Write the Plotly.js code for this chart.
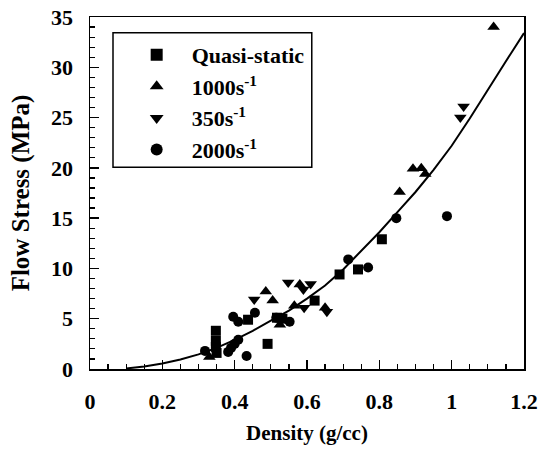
<!DOCTYPE html>
<html>
<head>
<meta charset="utf-8">
<script src="https://cdn.plot.ly/plotly-3.0.1.min.js"></script>
<style>html,body{margin:0;padding:0;background:#fff;}#chart{width:539px;height:449px;}</style>
</head>
<body>
<div id="chart"></div>
<script>
// Quasi-static (squares)
const qsX = [0.348, 0.348, 0.348, 0.350, 0.437, 0.491, 0.517, 0.532, 0.621, 0.690, 0.741, 0.807];
const qsY = [3.8, 2.8, 2.2, 1.6, 4.9, 2.5, 5.1, 5.0, 6.8, 9.4, 9.9, 12.9];
// 1000 s^-1 (up triangles)
const r1000X = [0.330, 0.486, 0.505, 0.525, 0.565, 0.580, 0.650, 0.856, 0.893, 0.916, 0.927, 1.116];
const r1000Y = [1.2, 7.7, 6.8, 4.4, 6.3, 8.4, 6.1, 17.6, 19.9, 19.95, 19.4, 34.0];
// 350 s^-1 (down triangles)
const r350X = [0.454, 0.548, 0.590, 0.610, 0.592, 0.655, 1.024, 1.033];
const r350Y = [6.9, 8.6, 7.9, 8.45, 6.1, 5.7, 25.0, 26.1];
// 2000 s^-1 (circles)
const r2000X = [0.318, 0.382, 0.390, 0.400, 0.410, 0.396, 0.410, 0.433, 0.456, 0.515, 0.552, 0.714, 0.769, 0.847, 0.987];
const r2000Y = [1.8, 1.7, 2.1, 2.5, 2.9, 5.2, 4.7, 1.3, 5.6, 5.1, 4.7, 10.9, 10.1, 15.0, 15.2];
// fitted curve
const fitX = [0.10, 0.15, 0.20, 0.25, 0.30, 0.35, 0.40, 0.45, 0.50, 0.55, 0.60, 0.65, 0.70, 0.75, 0.80, 0.85, 0.90, 0.95, 1.00, 1.05, 1.10, 1.15, 1.20];
const fitY = [0.05, 0.25, 0.55, 0.95, 1.45, 2.1, 2.9, 3.8, 4.8, 5.8, 7.0, 8.3, 9.9, 11.7, 13.6, 15.6, 17.6, 19.8, 22.2, 24.9, 27.8, 30.6, 33.4];

const names = ['Quasi-static', '1000s<sup>-1</sup>', '350s<sup>-1</sup>', '2000s<sup>-1</sup>'];

const FONT = 'Liberation Serif, Times New Roman, serif';
const mk = (sym, size) => ({symbol: sym, size: size, color: '#000', line: {width: 0}});

const traces = [
  {x: fitX, y: fitY, mode: 'lines', line: {color: '#000', width: 2}, showlegend: false, hoverinfo: 'skip'},
  {x: qsX, y: qsY, mode: 'markers', name: names[0], marker: mk('square', 10), legendgroup: 'a'},
  {x: r1000X, y: r1000Y, mode: 'markers', name: names[1], marker: mk('triangle-up', 11), legendgroup: 'b'},
  {x: r350X, y: r350Y, mode: 'markers', name: names[2], marker: mk('triangle-down', 11), legendgroup: 'c'},
  {x: r2000X, y: r2000Y, mode: 'markers', name: names[3], marker: mk('circle', 10), legendgroup: 'd'}
];

const axisCommon = {
  showgrid: false, zeroline: false, showline: true, linecolor: '#000', linewidth: 1.5,
  mirror: true, ticks: 'inside', ticklen: 9, tickwidth: 1.5, tickcolor: '#000',
  tickfont: {family: FONT, size: 22, color: '#000', weight: 'bold'}
};

const layout = {
  width: 539, height: 449,
  margin: {l: 90, r: 15, t: 17, b: 80},
  paper_bgcolor: '#fff', plot_bgcolor: '#fff',
  font: {family: FONT, color: '#000'},
  xaxis: Object.assign({}, axisCommon, {
    range: [0, 1.2], dtick: 0.2, tick0: 0,
    minor: {dtick: 0.05, ticks: 'inside', ticklen: 5, tickwidth: 1.2, tickcolor: '#000'},
    ticklabelstandoff: 12, ticklabeloverflow: 'allow',
    title: {text: '<b>Density (g/cc)</b>', font: {family: FONT, size: 21, color: '#000'}, standoff: 12}
  }),
  yaxis: Object.assign({}, axisCommon, {
    range: [0, 35], dtick: 5, tick0: 0,
    minor: {dtick: 1, ticks: 'inside', ticklen: 5, tickwidth: 1.2, tickcolor: '#000'},
    ticklabelstandoff: 11,
    title: {text: '<b>Flow Stress (MPa)</b>', font: {family: FONT, size: 25, color: '#000'}, standoff: 14}
  }),
  legend: {
    x: 0.073, y: 0.952, xanchor: 'left', yanchor: 'top',
    bgcolor: 'rgba(0,0,0,0)', borderwidth: 0,
    font: {family: FONT, size: 22, color: '#000', weight: 'bold'},
    traceorder: 'grouped', tracegroupgap: 0, itemsizing: 'constant', itemwidth: 60
  },
  shapes: [{
    type: 'rect', xref: 'paper', yref: 'paper',
    x0: 0.053, x1: 0.511, y0: 0.573, y1: 0.955,
    line: {color: '#000', width: 1.5}, fillcolor: 'rgba(0,0,0,0)'
  }]
};

Plotly.newPlot('chart', traces, layout, {displayModeBar: false, staticPlot: true});
</script>
</body>
</html>
